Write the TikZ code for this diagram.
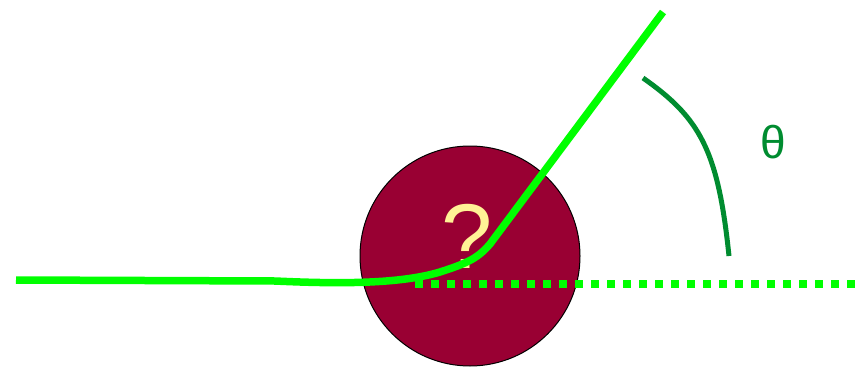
\documentclass[tikz,border=0pt]{standalone}
\usepackage{fontspec}
\setmainfont{Liberation Sans}
\definecolor{targetred}{RGB}{153,0,51}
\definecolor{raygreen}{RGB}{0,255,0}
\definecolor{anglegreen}{RGB}{0,140,48}
\definecolor{markyellow}{RGB}{255,242,150}
\begin{document}
\begin{tikzpicture}[x=1pt,y=-1pt]
  \useasboundingbox (0,0) rectangle (861,369);
  \node[circle,draw=black,line width=1pt,fill=targetred,minimum size=220pt,inner sep=0pt] (target) at (470,256) {};
  \node[markyellow,font=\fontsize{92}{92}\selectfont] (mark) at (467,236) {?};
  \draw[raygreen,line width=8pt,dash pattern=on 8pt off 8pt] (415,284) -- (858,284);
  \draw[raygreen,line width=7.5pt] (16,280) -- (275,281) .. controls (340,284) and (400,284) .. (440,272) .. controls (468,263) and (478,258) .. (490,244) -- (663,12);
  \draw[anglegreen,line width=5pt] (643,78) .. controls (700,118) and (718,150) .. (729,256);
  \node[anglegreen,font=\fontsize{46}{46}\selectfont] (theta) at (773,142) {θ};
\end{tikzpicture}
\end{document}
